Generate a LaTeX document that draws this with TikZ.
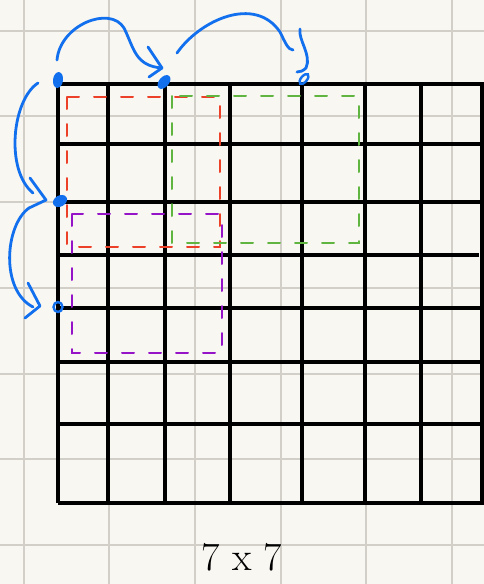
\documentclass[tikz,border=0pt]{standalone}
\usepackage{fontspec}
\usetikzlibrary{shapes.geometric}
\begin{document}
\begin{tikzpicture}[x=1pt,y=-1pt,
  faint/.style={draw=gridc,line width=1.6pt},
  bold/.style={draw=black,line width=3.2pt},
  hand/.style={line width=2pt,dash pattern=on 12pt off 15pt,line cap=round},
  pen/.style={draw=penblue,line width=2.8pt,line cap=round,line join=round},
  dotfill/.style={shape=ellipse,fill=penblue,inner sep=0pt},
  dotopen/.style={shape=ellipse,draw=penblue,line width=2.4pt,inner sep=0pt},
]
\definecolor{paperc}{RGB}{249,247,242}
\definecolor{gridc}{RGB}{210,206,200}
\definecolor{penblue}{RGB}{18,112,238}
\definecolor{hred}{RGB}{236,64,40}
\definecolor{hgreen}{RGB}{96,180,64}
\definecolor{hpurple}{RGB}{150,20,200}
\useasboundingbox (0,0) rectangle (484,584);
\fill[paperc] (0,0) rectangle (484,584);
% faint paper grid
\foreach \x in {24,109,195,281,366,452} \draw[faint] (\x,0) -- (\x,584);
\foreach \y in {31,116,202,288,374,459,545} \draw[faint] (0,\y) -- (484,\y);
% bold grid
\foreach \x in {58,108,165,230,302,365,421,482} \draw[bold] (\x,84) -- (\x,503);
\foreach \y in {84,144,202,308,362,424,503} \draw[bold] (58,\y) -- (484,\y);
\draw[bold] (58,255) -- (479,255);
% dashed windows
\draw[hand,hred] (67,97) rectangle (220,247);
\draw[hand,hgreen] (172,96) rectangle (359,243);
\draw[hand,hpurple] (72,214) rectangle (222,353);
% blue dots
\node[dotfill,minimum width=10pt,minimum height=16pt,rotate=-8] (d1) at (58,80) {};
\node[dotfill,minimum width=10pt,minimum height=16pt,rotate=-40] (d2) at (164,82) {};
\node[dotopen,minimum width=6pt,minimum height=12pt,rotate=-40] (d3) at (304,79) {};
\node[dotfill,minimum width=11pt,minimum height=15pt,rotate=-60] (d4) at (60,201) {};
\node[dotopen,minimum width=9pt,minimum height=10pt] (d5) at (58,307) {};
% arrow 1 : top, d1 -> d2
\coordinate (a1s) at (57,60);
\coordinate (a1t) at (162,68);
\draw[pen] (a1s) .. controls (60,25) and (110,5) .. (124,28)
  .. controls (134,48) and (135,66) .. (a1t);
\draw[pen] (148,47) -- (a1t) -- (149,77);
% arrow 2 : top, d2 -> d3
\coordinate (a2s) at (177,53);
\draw[pen] (a2s) .. controls (200,20) and (255,-5) .. (280,32)
  .. controls (285,42) and (288,50) .. (293,50);
\coordinate (a2t) at (297,72);
\draw[pen] (300,29) .. controls (298,40) and (312,55) .. (306,68)
  .. controls (303,71) and (300,72) .. (a2t);
% arrow 3 : left, d1 -> d4
\coordinate (a3s) at (38,83);
\coordinate (a3t) at (46,200);
\draw[pen] (a3s) .. controls (12,100) and (5,170) .. (33,193);
\draw[pen] (30,178) -- (a3t) -- (29,208);
% arrow 4 : left, d4 -> d5
\coordinate (a4t) at (40,306);
\draw[pen] (29,208) .. controls (5,225) and (0,290) .. (33,307);
\draw[pen] (28,283) -- (a4t) -- (25,318);
% caption
\node[font=\fontsize{40}{40}\selectfont,inner sep=0pt] (cap) at (242,557) {7 x 7};
\end{tikzpicture}
\end{document}
